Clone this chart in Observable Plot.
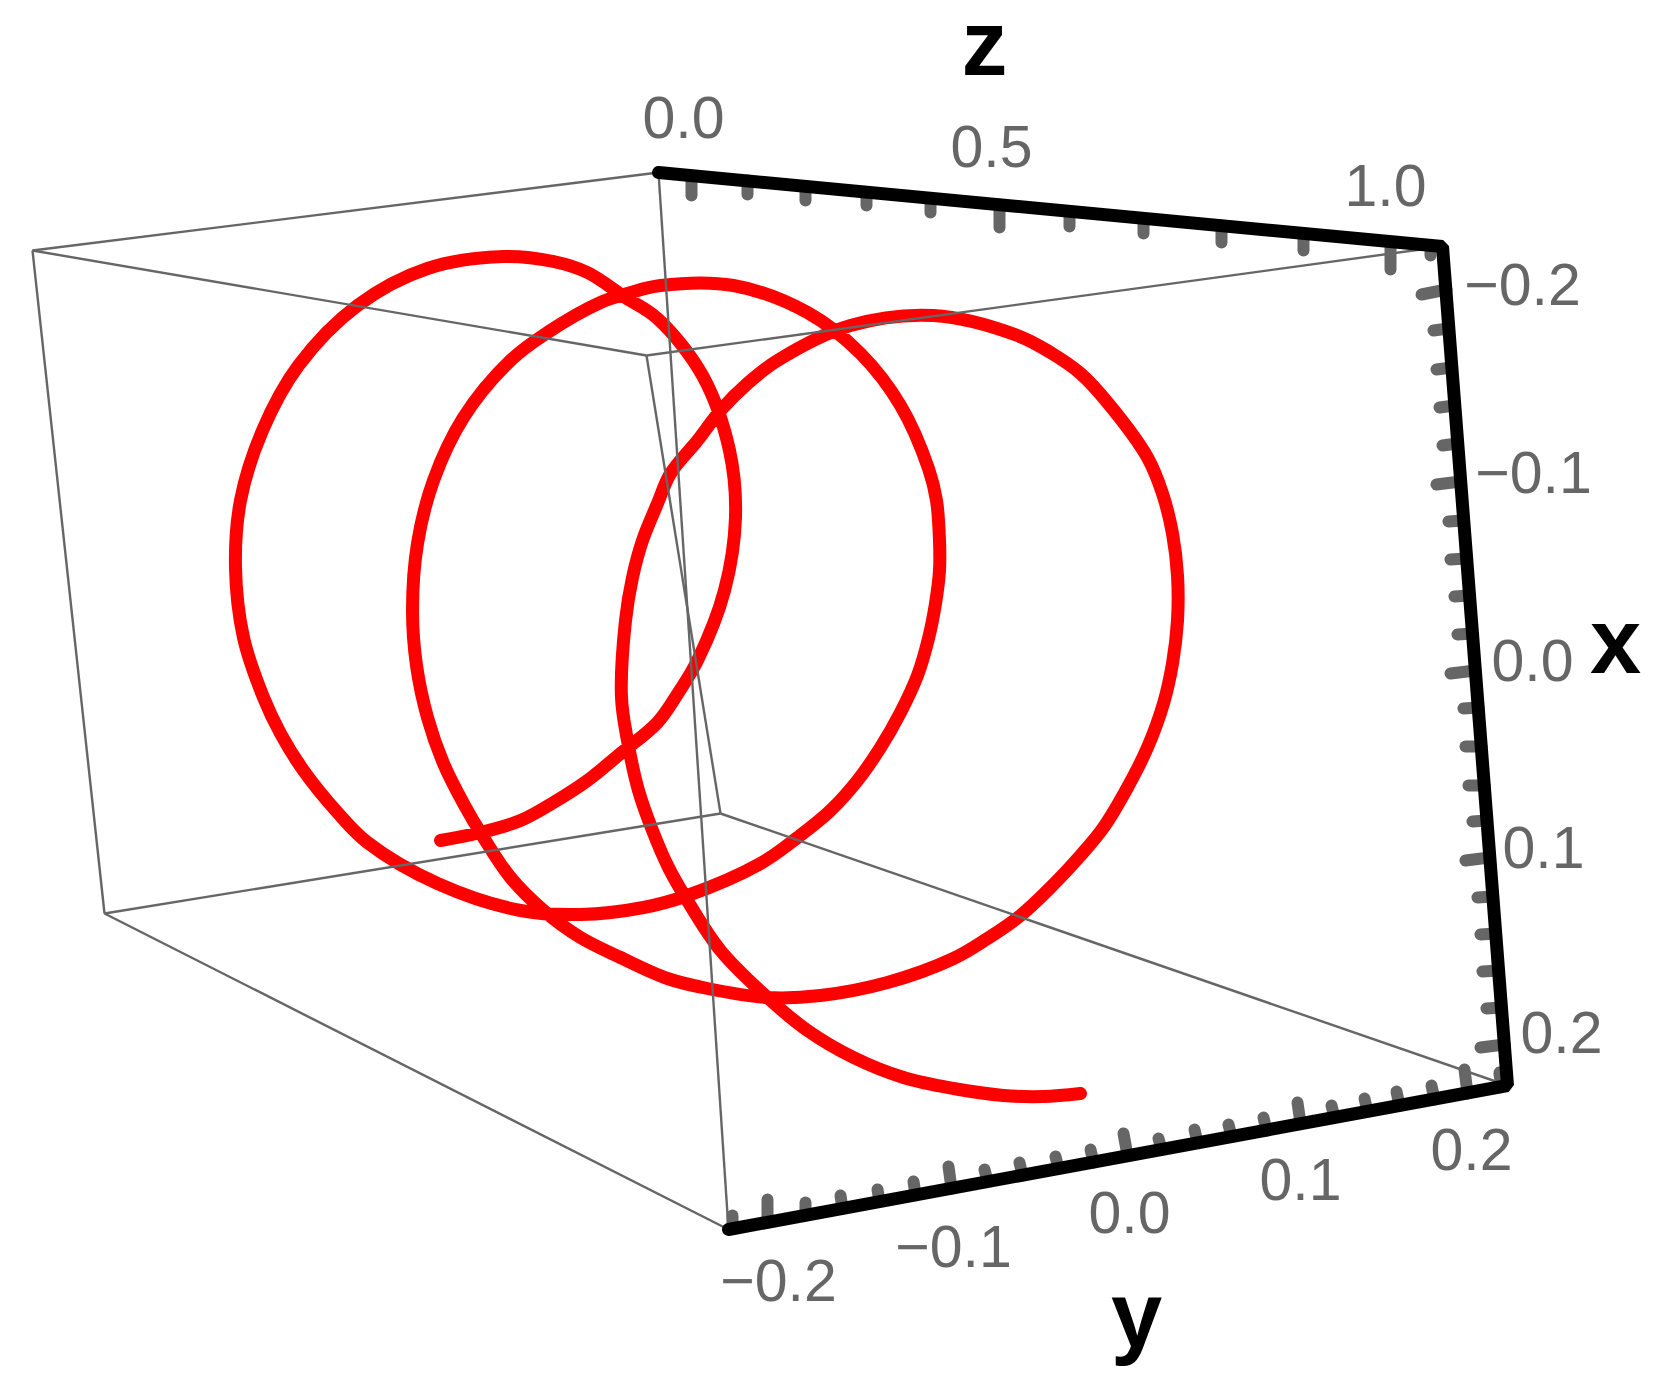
<!DOCTYPE html>
<html>
<head>
<meta charset="utf-8">
<script src="https://cdn.jsdelivr.net/npm/d3@7"></script>
<script src="https://cdn.jsdelivr.net/npm/@observablehq/plot@0.6"></script>
<style>
html,body{margin:0;padding:0;background:#fff}
svg{display:block;overflow:visible}
</style>
</head>
<body>
<div id="chart"></div>
<script>
// Everything is a projected 3D picture, so values are read as positions on the picture plane.
const curveX = [440,480,520,553,587,620,657,678,697,724,735,729,702,657,625,587,553,503,427,357,298,262,240,235,243,263,280,303,337,367,437,520,580,643,687,760,797,830,857,880,900,917,928,935,939,939,936,928,900,860,807,733,660,627,600,547,510,463,433,417,412,416,427,443,463,483,510,543,580,620,667,707,767,820,887,953,987,1020,1053,1080,1103,1127,1147,1163,1172,1177,1177,1172,1162,1147,1107,1080,1050,1017,933,850,777,747,720,697,670,657,642,632,625,621,627,638,652,668,685,720,767,807,853,903,953,1003,1043,1080];
const curveY = [840,832,820,802,780,753,722,692,660,590,517,450,375,318,297,272,261,256,268,305,365,430,500,567,637,697,733,770,812,842,883,910,914,907,895,863,837,810,780,747,712,675,638,603,570,540,500,468,405,353,312,285,285,293,302,332,360,417,480,543,610,665,717,763,803,837,877,910,937,957,978,988,997,995,982,958,938,915,884,855,827,787,747,703,663,620,575,533,493,457,402,373,352,335,315,325,360,383,410,440,473,503,540,577,620,697,740,790,830,867,897,950,997,1030,1057,1077,1088,1095,1096,1093];

const frameX1 = [32,32,658,646,646,32,104,104,720];
const frameY1 = [250,250,172,355,355,250,913,913,813];
const frameX2 = [658,646,728,1442,720,104,720,728,1507];
const frameY2 = [172,355,1229,246,813,913,813,1229,1085];

const axisPathX = [658,1442,1507,728];
const axisPathY = [172,246,1085,1229];

const zTickTipX = [691,747,805,866,930,999,1069,1143,1221,1303,1390,1430];
const zTickTipY = [195,194,200,205,212,227,226,233,242,250,269,255];
const zTickBaseY = [175,180,186,192,198,204,211,218,225,233,241,245];

const xTickTipX = [1421,1433,1436,1439,1442,1436,1448,1450,1454,1457,1450,1463,1465,1468,1472,1465,1477,1480,1482,1486,1480,1499];
const xTickTipY = [294,330,369,407,445,484,521,559,596,634,673,708,746,785,821,860,897,934,971,1008,1047,1072];
const xTickBaseX = [1446,1448,1451,1454,1457,1460,1463,1466,1469,1472,1475,1478,1481,1484,1486,1489,1492,1495,1498,1501,1504,1506];
const xTickBaseY = [289,328,367,405,443,481,520,558,595,633,670,707,746,785,820,857,896,933,970,1007,1044,1071];

const yTickTipX = [732,767,805,840,877,913,948,984,1019,1055,1090,1123,1158,1194,1228,1263,1297,1331,1364,1396,1431,1464,1499];
const yTickTipY = [1215,1199,1202,1195,1189,1181,1166,1169,1162,1156,1149,1133,1138,1129,1124,1117,1102,1105,1098,1091,1085,1069,1074];
const yTickBaseX = [732,767,805,842,879,915,951,987,1022,1058,1093,1127,1161,1197,1231,1266,1300,1334,1367,1399,1434,1467,1501];
const yTickBaseY = [1228,1222,1215,1208,1201,1194,1188,1181,1175,1168,1162,1155,1149,1142,1136,1130,1123,1117,1111,1105,1099,1093,1086];

const tickLabels = ["0.0","0.5","1.0","\u22120.2","\u22120.1","0.0","0.1","0.2","0.2","0.1","0.0","\u22120.1","\u22120.2"];
const tickLabelX = [683,991,1385,1522,1533,1532,1543,1561,1471,1300,1129,953,778];
const tickLabelY = [137,166,205,304,492,680,867,1052,1169,1199,1232,1266,1300];

const axisNames = ["z","x","y"];
const axisNameX = [984,1615,1136];
const axisNameY = [74,672,1346];

const sans = "'Liberation Sans', Arial, sans-serif";
const tickLink = (tx, ty, bx, by) => Plot.link(tx, {
  x1: (d,i) => bx[i], y1: (d,i) => by[i], x2: (d,i) => tx[i], y2: (d,i) => ty[i],
  stroke: "#666666", strokeWidth: 12, strokeLinecap: "round"
});

const chart = Plot.plot({
  width: 1664, height: 1389,
  marginTop: 0, marginRight: 0, marginBottom: 0, marginLeft: 0,
  x: {domain: [0,1664], axis: null},
  y: {domain: [1389,0], axis: null},
  style: {background: "#ffffff"},
  marks: [
    Plot.line(curveX, {x: (d,i) => curveX[i], y: (d,i) => curveY[i], stroke: "#ff0000", strokeWidth: 13, curve: "catmull-rom", strokeLinecap: "round", strokeLinejoin: "round"}),
    Plot.link(frameX1, {x1: (d,i) => frameX1[i], y1: (d,i) => frameY1[i], x2: (d,i) => frameX2[i], y2: (d,i) => frameY2[i], stroke: "#666666", strokeWidth: 2.4}),
    tickLink(zTickTipX, zTickTipY, zTickTipX, zTickBaseY),
    tickLink(xTickTipX, xTickTipY, xTickBaseX, xTickBaseY),
    tickLink(yTickTipX, yTickTipY, yTickBaseX, yTickBaseY),
    Plot.line(axisPathX, {x: (d,i) => axisPathX[i], y: (d,i) => axisPathY[i], stroke: "#000000", strokeWidth: 13, strokeLinecap: "round", strokeLinejoin: "miter"}),
    Plot.text(tickLabels, {x: (d,i) => tickLabelX[i], y: (d,i) => tickLabelY[i], text: d => d, lineAnchor: "bottom", fontFamily: sans, fontSize: 59, fill: "#666666"}),
    Plot.text(axisNames, {x: (d,i) => axisNameX[i], y: (d,i) => axisNameY[i], text: d => d, lineAnchor: "bottom", fontFamily: sans, fontSize: 92, fontWeight: "bold", fill: "#000000"})
  ]
});
document.getElementById("chart").appendChild(chart);
</script>
</body>
</html>
